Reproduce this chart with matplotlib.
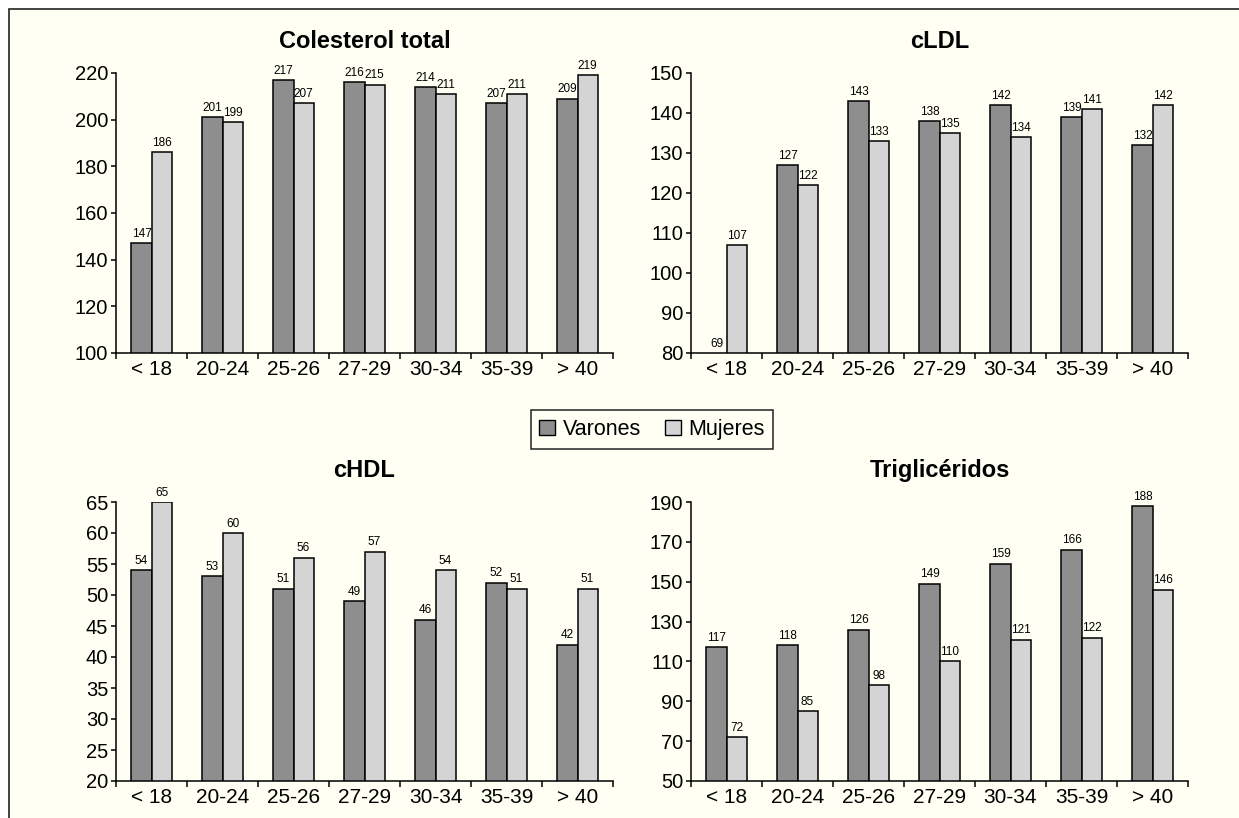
import numpy as np
import matplotlib
matplotlib.use("Agg")
import matplotlib.pyplot as plt
from matplotlib.patches import Rectangle, Patch

plt.rcParams['font.family'] = ['Liberation Sans', 'DejaVu Sans']

# Age groups and lipid values (mg/dl) by sex
grupos = ["< 18", "20-24", "25-26", "27-29", "30-34", "35-39", "> 40"]

ct_varones = [147, 201, 217, 216, 214, 207, 209]
ct_mujeres = [186, 199, 207, 215, 211, 211, 219]

ldl_varones = [69, 127, 143, 138, 142, 139, 132]
ldl_mujeres = [107, 122, 133, 135, 134, 141, 142]

hdl_varones = [54, 53, 51, 49, 46, 52, 42]
hdl_mujeres = [65, 60, 56, 57, 54, 51, 51]

tg_varones = [117, 118, 126, 149, 159, 166, 188]
tg_mujeres = [72, 85, 98, 110, 121, 122, 146]

paneles = [
    ("Colesterol total", ct_varones, ct_mujeres, (100, 220), 20),
    ("cLDL", ldl_varones, ldl_mujeres, (80, 150), 10),
    ("cHDL", hdl_varones, hdl_mujeres, (20, 65), 5),
    ("Triglicéridos", tg_varones, tg_mujeres, (50, 190), 20),
]

COL_V = "#8e8e8e"
COL_M = "#d4d4d4"
FONDO = "#fffff4"

W, H = 1239, 818
fig = plt.figure(figsize=(W / 100, H / 100), dpi=100)
fig.patch.set_facecolor("white")

# Cream panel with border behind the charts
marco = Rectangle((9 / W, -0.1), 1.2, 1 - 9 / H + 0.1, transform=fig.transFigure,
                  facecolor=FONDO, edgecolor="#222222", linewidth=1.2, zorder=-10)
fig.patches.append(marco)

ax_w = 497 / W
ax_h_top = (353 - 73) / H
ax_h_bot = (781 - 502) / H
posiciones = [
    (116 / W, (H - 353) / H, ax_w, ax_h_top),
    (691 / W, (H - 353) / H, ax_w, ax_h_top),
    (116 / W, (H - 781) / H, ax_w, ax_h_bot),
    (691 / W, (H - 781) / H, ax_w, ax_h_bot),
]

x = np.arange(len(grupos))
bw = 0.282

for (titulo, varones, mujeres, (ymin, ymax), paso), pos in zip(paneles, posiciones):
    ax = fig.add_axes(pos)
    ax.set_facecolor(FONDO)
    ax.bar(x - bw / 2, varones, bw, color=COL_V, edgecolor="black", linewidth=1.1, zorder=2)
    ax.bar(x + bw / 2, mujeres, bw, color=COL_M, edgecolor="black", linewidth=1.1, zorder=2)
    off = (ymax - ymin) * 0.012
    for xi, v in zip(x - bw / 2, varones):
        ax.text(xi, max(v, ymin) + off, str(v), ha="center", va="bottom", fontsize=8.5)
    for xi, v in zip(x + bw / 2, mujeres):
        ax.text(xi, max(v, ymin) + off, str(v), ha="center", va="bottom", fontsize=8.5)

    ax.set_xlim(-0.5, len(grupos) - 0.5)
    ax.set_ylim(ymin, ymax)
    ax.set_yticks(np.arange(ymin, ymax + 0.1, paso))
    ax.set_xticks(x)
    ax.set_xticklabels(grupos)
    ax.set_xticks(np.arange(-0.5, len(grupos), 1.0), minor=True)
    ax.tick_params(axis="x", which="major", length=0, pad=5, labelsize=15)
    ax.tick_params(axis="x", which="minor", length=4.5, width=1.1, direction="out")
    ax.tick_params(axis="y", length=3.5, width=1.1, pad=2, labelsize=14.5)
    for s in ("top", "right"):
        ax.spines[s].set_visible(False)
    for s in ("left", "bottom"):
        ax.spines[s].set_linewidth(1.1)
    ax.set_title(titulo, fontsize=17, fontweight="bold", pad=18)

handles = [Patch(facecolor=COL_V, edgecolor="black", linewidth=1.0, label="Varones"),
           Patch(facecolor=COL_M, edgecolor="black", linewidth=1.0, label="Mujeres")]
leg = fig.legend(handles=handles, loc="center", bbox_to_anchor=(652 / W, (H - 429.5) / H),
                 ncol=2, fontsize=15.5, frameon=True, fancybox=False, handlelength=0.75,
                 handleheight=0.75, handletextpad=0.35, columnspacing=1.1, borderpad=0.4)
leg.get_frame().set_edgecolor("#222222")
leg.get_frame().set_linewidth(1.1)
leg.get_frame().set_facecolor(FONDO)
leg.get_frame().set_alpha(1)

fig.savefig("out.png", dpi=100, facecolor="white")
